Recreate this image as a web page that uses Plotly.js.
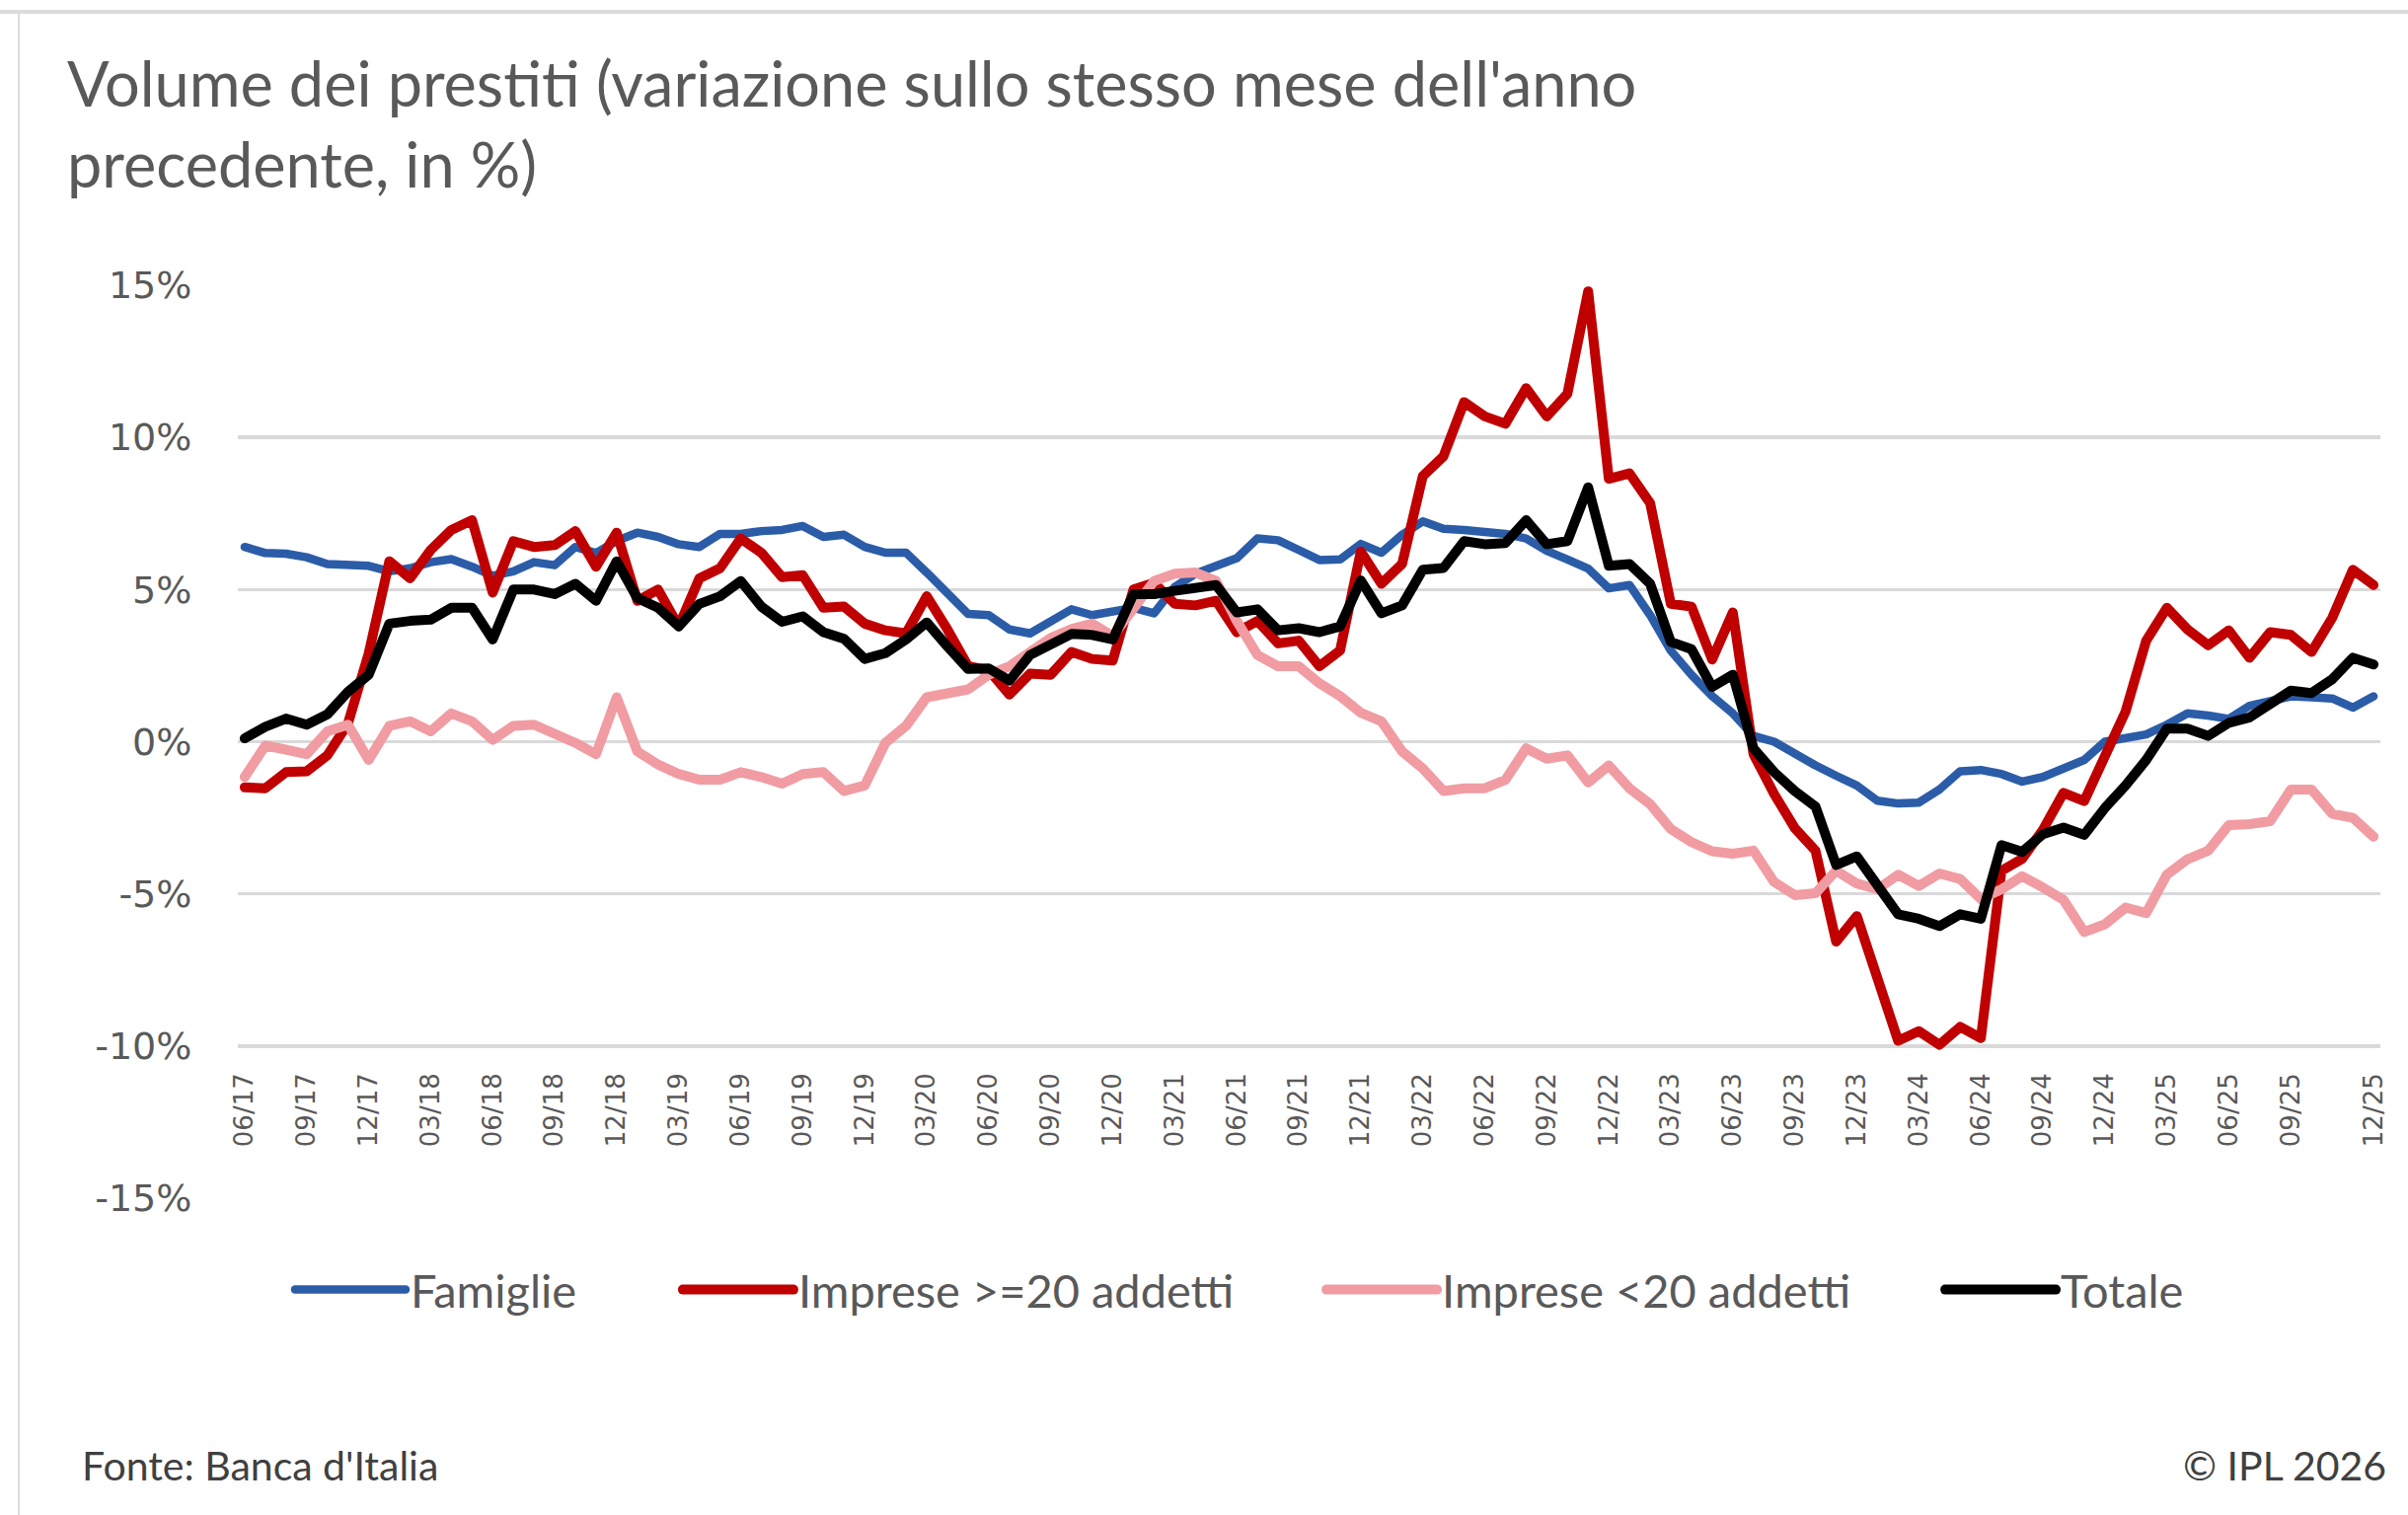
<!DOCTYPE html>
<html><head><meta charset="utf-8">
<script src="https://cdn.plot.ly/plotly-3.0.1.min.js"></script>
<style>
html,body{margin:0;padding:0;background:#fff;}
#wrap{position:relative;width:2440px;height:1535px;overflow:hidden;background:#fff;}
#chart{position:absolute;left:0;top:0;width:2440px;height:1535px;}
#bt{position:absolute;left:0;top:10px;width:2440px;height:4px;background:#dcdcdc;}
#bl{position:absolute;left:18px;top:10px;width:2px;height:1525px;background:#dcdcdc;}
.scatterlayer path.js-line{stroke-linejoin:round;stroke-linecap:round;}
.legendlines path{stroke-linecap:round;}
</style></head>
<body><div id="wrap"><div id="chart"></div><div id="bt"></div><div id="bl"></div></div>
<script>
// Monthly values, 06/17 .. 12/25 (year-on-year change, %)
const famiglie = [6.4,6.2,6.18,6.06,5.84,5.8,5.78,5.6,5.7,5.9,6.0,5.75,5.45,5.6,5.9,5.8,6.4,6.2,6.6,6.87,
6.73,6.49,6.4,6.83,6.83,6.92,6.96,7.09,6.73,6.8,6.4,6.21,6.21,5.56,4.9,4.2,4.16,3.69,3.56,3.97,
4.35,4.16,4.25,4.4,4.22,5.09,5.52,5.78,6.03,6.68,6.62,6.3,5.97,5.99,6.5,6.21,6.8,7.24,7.0,6.96,
6.92,6.83,6.68,6.27,5.99,5.69,5.04,5.15,4.16,2.99,2.2,1.5,0.93,0.19,0.0,-0.41,-0.78,-1.12,-1.44,-1.94,
-2.03,-2.0,-1.57,-0.97,-0.93,-1.06,-1.31,-1.16,-0.88,-0.6,0.0,0.15,0.24,0.56,0.93,0.86,0.75,1.18,1.32,1.49,
1.46,1.42,1.12,1.49];
const impreseGrandi = [-1.5,-1.53,-1.0,-0.97,-0.45,0.6,2.9,5.93,5.37,6.3,6.96,7.28,4.9,6.59,6.4,6.46,6.92,5.75,6.87,4.63,
5.0,3.79,5.37,5.7,6.68,6.21,5.41,5.47,4.4,4.44,3.88,3.66,3.56,4.78,3.69,2.48,2.35,1.55,2.24,2.2,
2.95,2.72,2.67,5.0,5.22,4.53,4.48,4.63,3.6,3.97,3.23,3.32,2.48,3.0,6.25,5.19,5.84,8.73,9.38,11.16,
10.69,10.45,11.62,10.69,11.44,14.8,8.64,8.82,7.84,4.53,4.44,2.7,4.25,-0.41,-1.72,-2.84,-3.58,-6.57,-5.73,-7.69,
-9.83,-9.51,-9.96,-9.37,-9.74,-4.24,-3.85,-2.9,-1.68,-1.95,-0.41,0.99,3.32,4.4,3.69,3.17,3.66,2.76,3.6,3.51,
2.95,4.07,5.65,5.15];
const impresePiccole = [-1.16,-0.13,-0.26,-0.41,0.34,0.56,-0.6,0.52,0.67,0.34,0.93,0.67,0.06,0.52,0.56,0.3,-0.04,-0.41,1.46,-0.32,
-0.75,-1.06,-1.25,-1.25,-1.0,-1.16,-1.38,-1.06,-1.0,-1.62,-1.44,-0.04,0.52,1.46,1.6,1.72,2.2,2.48,2.95,3.41,
3.7,3.88,3.47,4.44,5.28,5.52,5.56,5.28,3.97,2.85,2.48,2.48,1.92,1.5,0.95,0.67,-0.32,-0.88,-1.62,-1.53,
-1.53,-1.25,-0.22,-0.56,-0.45,-1.34,-0.78,-1.53,-2.05,-2.87,-3.3,-3.6,-3.68,-3.58,-4.61,-5.04,-4.98,-4.24,-4.66,-4.85,
-4.37,-4.74,-4.33,-4.51,-5.17,-4.85,-4.42,-4.79,-5.2,-6.25,-6.0,-5.45,-5.63,-4.37,-3.86,-3.58,-2.74,-2.71,-2.61,-1.57,
-1.57,-2.37,-2.5,-3.12];
const totale = [0.11,0.49,0.76,0.56,0.9,1.64,2.2,3.88,3.97,4.01,4.4,4.4,3.36,5.0,5.0,4.85,5.19,4.63,5.93,4.72,
4.4,3.79,4.53,4.78,5.28,4.44,3.94,4.12,3.6,3.38,2.72,2.91,3.36,3.92,3.13,2.39,2.41,2.01,2.85,3.17,
3.54,3.51,3.36,4.85,4.85,4.96,5.09,5.15,4.25,4.35,3.66,3.73,3.6,3.79,5.3,4.22,4.48,5.65,5.71,6.59,
6.49,6.53,7.28,6.49,6.59,8.36,5.78,5.84,5.19,3.28,3.04,1.8,2.2,-0.22,-1.0,-1.62,-2.13,-4.05,-3.77,-4.7,
-5.67,-5.82,-6.06,-5.67,-5.82,-3.4,-3.62,-3.04,-2.82,-3.06,-2.18,-1.44,-0.6,0.43,0.43,0.19,0.62,0.8,1.27,1.68,
1.6,2.05,2.76,2.54];

const seriesNames = ["Famiglie", "Imprese &gt;=20 addetti", "Imprese &lt;20 addetti", "Totale"];
const seriesColors = ["#2b5ca8", "#c00000", "#f09ca2", "#000000"];
const tickLabels = ["06/17","09/17","12/17","03/18","06/18","09/18","12/18","03/19","06/19","09/19","12/19",
"03/20","06/20","09/20","12/20","03/21","06/21","09/21","12/21","03/22","06/22","09/22","12/22",
"03/23","06/23","09/23","12/23","03/24","06/24","09/24","12/24","03/25","06/25","09/25","12/25"];
const yTickVals = [-15, -10, -5, 0, 5, 10, 15];

const allSeries = [famiglie, impreseGrandi, impresePiccole, totale];
const n = famiglie.length;
const xIdx = famiglie.map((_, i) => i);
const tickVals = tickLabels.map((_, k) => k < tickLabels.length - 1 ? 3 * k : n - 1);
const lineWidths = [8.5, 10, 10, 10];
const legendIds = ["legend", "legend2", "legend3", "legend4"];
const legendX = [0.0244, 0.2054, 0.5058, 0.7946];

const traces = allSeries.map((vals, s) => ({
  type: "scatter", mode: "lines", x: xIdx, y: vals, name: seriesNames[s],
  line: {color: seriesColors[s], width: lineWidths[s]},
  legend: legendIds[s], hoverinfo: "skip"
}));

const legendBase = {
  orientation: "h", xanchor: "left", yanchor: "middle", y: -0.1006,
  itemwidth: 112, bgcolor: "rgba(0,0,0,0)", borderwidth: 0,
  font: {family: "Lato, 'Noto Sans', sans-serif", size: 47, color: "#595959"}
};

const layout = {
  width: 2440, height: 1535,
  paper_bgcolor: "rgba(0,0,0,0)", plot_bgcolor: "#ffffff",
  margin: {l: 241, r: 28, t: 289, b: 321, pad: 0},
  title: {
    text: "Volume dei prestiti (variazione sullo stesso mese dell'anno<br>precedente, in %)",
    xref: "container", yref: "container", x: 68 / 2440, xanchor: "left",
    y: 1 - 108 / 1535, yanchor: "top",
    font: {family: "Lato, 'Noto Sans', sans-serif", size: 63, color: "#595959"}
  },
  xaxis: {
    type: "linear", range: [-0.33, n - 1 + 0.33], anchor: "free", position: 5 / 30,
    tickvals: tickVals, ticktext: tickLabels, tickangle: -90,
    ticks: "outside", ticklen: 16, tickcolor: "rgba(0,0,0,0)",
    showgrid: false, zeroline: false, showline: false,
    tickfont: {family: "'DejaVu Sans', sans-serif", size: 26, color: "#595959"}
  },
  yaxis: {
    range: [-15, 15], tickvals: yTickVals, ticktext: yTickVals.map(v => v + "%"),
    showgrid: true, gridcolor: "#d9d9d9", gridwidth: 3.5, zeroline: false, showline: false,
    ticks: "outside", ticklen: 38, tickcolor: "rgba(0,0,0,0)",
    tickfont: {family: "'DejaVu Sans', sans-serif", size: 38, color: "#595959"}
  },
  showlegend: true,
  annotations: [
    {text: "Fonte: Banca d'Italia", xref: "paper", yref: "paper", x: (81 - 241) / 2171, y: -0.292,
     xanchor: "left", yanchor: "middle", showarrow: false,
     font: {family: "Lato, 'Noto Sans', sans-serif", size: 41, color: "#404040"}},
    {text: "© IPL 2026", xref: "paper", yref: "paper", x: (2420 - 241) / 2171, y: -0.292,
     xanchor: "right", yanchor: "middle", showarrow: false,
     font: {family: "Lato, 'Noto Sans', sans-serif", size: 41, color: "#404040"}}
  ]
};
legendIds.forEach((id, s) => { layout[id] = Object.assign({}, legendBase, {x: legendX[s]}); });

Plotly.newPlot("chart", traces, layout, {staticPlot: true, displayModeBar: false});
</script>
</body></html>
